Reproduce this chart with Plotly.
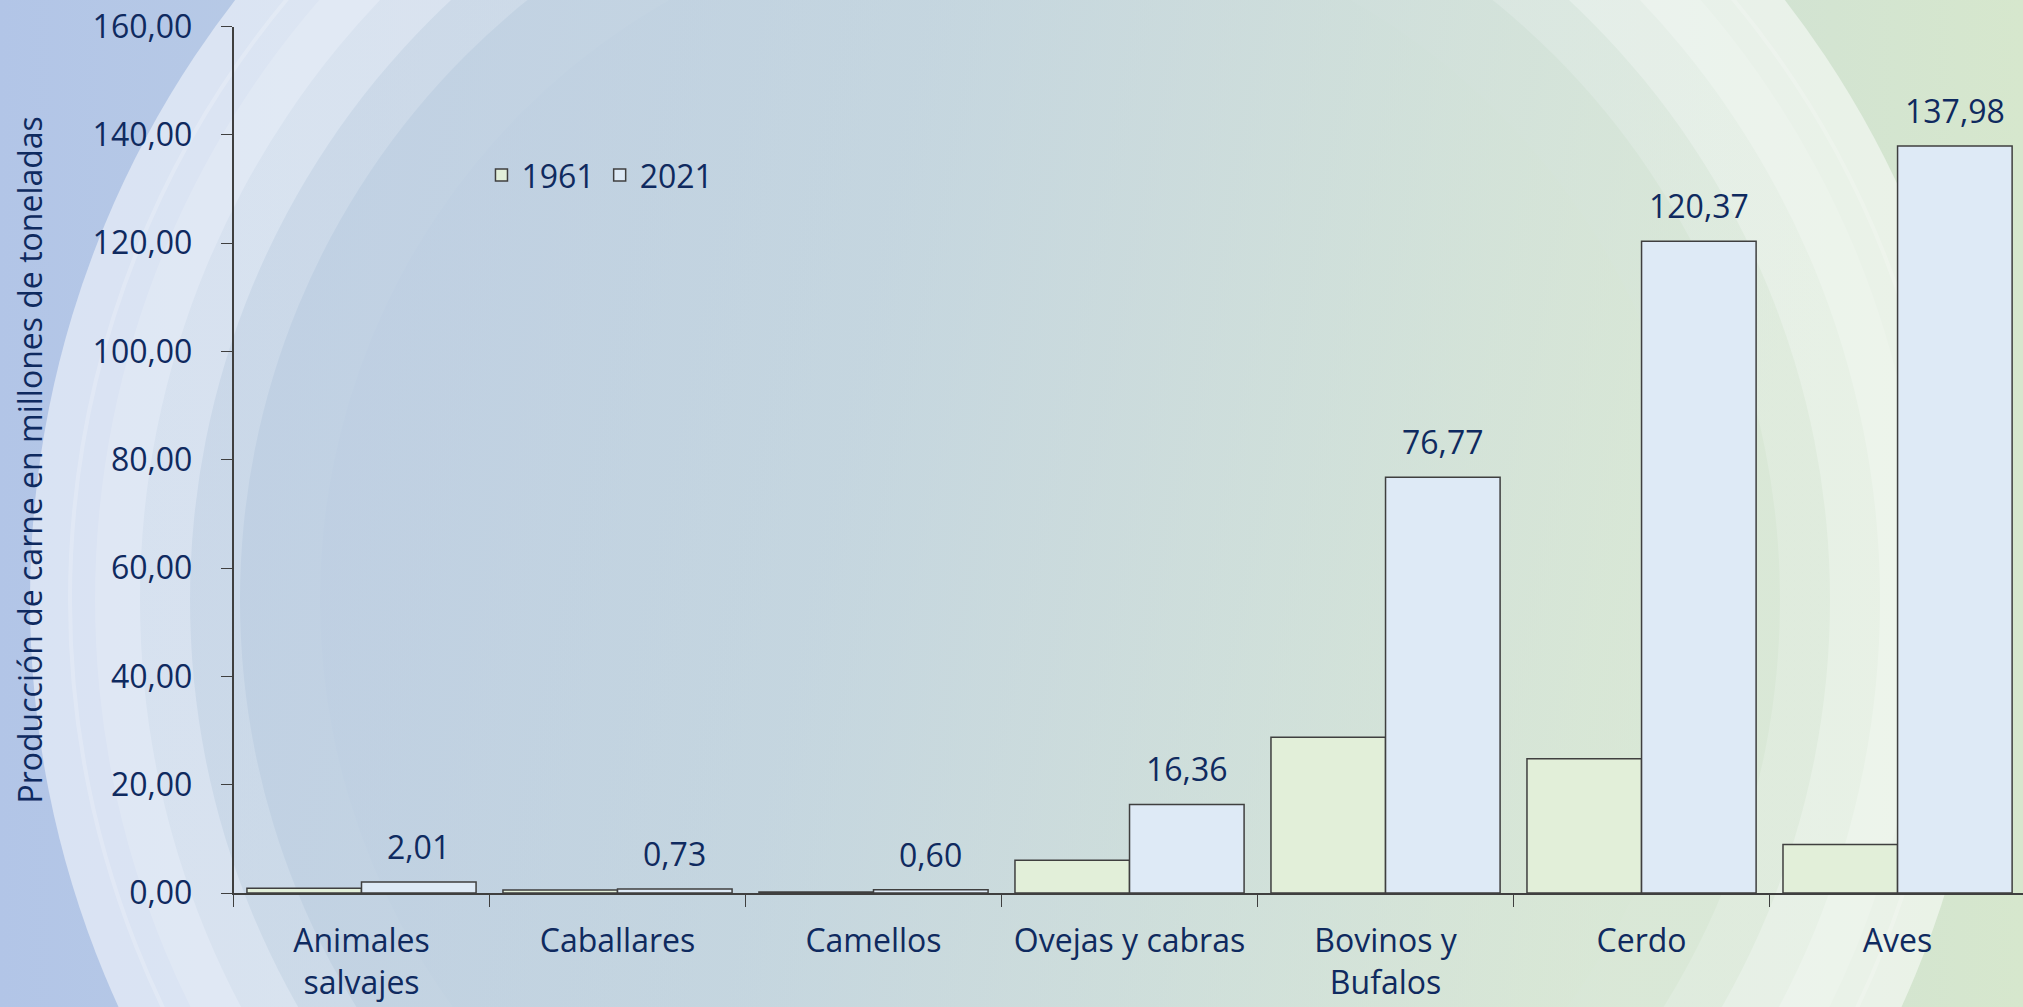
import base64
import plotly.graph_objects as go

categorias = ["Animales<br>salvajes", "Caballares", "Camellos", "Ovejas y cabras",
              "Bovinos y<br>Bufalos", "Cerdo", "Aves"]
prod_1961 = [0.87, 0.55, 0.17, 6.04, 28.75, 24.80, 8.94]
prod_2021 = [2.01, 0.73, 0.60, 16.36, 76.77, 120.37, 137.98]
y_ticks = [0, 20, 40, 60, 80, 100, 120, 140, 160]

W, H = 2023, 1007
navy = "#0f2a5f"
font_family = "Open Sans, Noto Sans, sans-serif"
bargap = 0.105

# fondo degradado con anillos (imitando la plantilla de la diapositiva)
svg = f"""<svg xmlns='http://www.w3.org/2000/svg' width='{W}' height='{H}' viewBox='0 0 {W} {H}'>
<defs>
<linearGradient id='base' x1='0' y1='0' x2='1' y2='0'>
<stop offset='0' stop-color='#b2c5e7'/><stop offset='0.5' stop-color='#c6d7e2'/><stop offset='1' stop-color='#d6e7cd'/>
</linearGradient>
<linearGradient id='inner' x1='0' y1='0' x2='1' y2='0.2'>
<stop offset='0' stop-color='#bccde3'/><stop offset='0.45' stop-color='#c4d5df'/><stop offset='1' stop-color='#d8e7d5'/>
</linearGradient>
</defs>
<rect width='{W}' height='{H}' fill='url(#base)'/>
<circle cx='1010' cy='600' r='980' fill='white' fill-opacity='0.5'/>
<circle cx='1010' cy='600' r='940' fill='none' stroke='white' stroke-opacity='0.2' stroke-width='4'/>
<circle cx='1010' cy='600' r='915' fill='white' fill-opacity='0.15'/>
<circle cx='1010' cy='600' r='870' fill='url(#inner)' fill-opacity='0.25'/>
<circle cx='1010' cy='600' r='820' fill='url(#inner)' fill-opacity='0.5'/>
<circle cx='1010' cy='600' r='770' fill='url(#inner)' fill-opacity='0.8'/>
<circle cx='1010' cy='600' r='690' fill='url(#inner)' fill-opacity='0.6'/>
</svg>"""
bg_src = "data:image/svg+xml;base64," + base64.b64encode(svg.encode()).decode()

fig = go.Figure()
fig.add_trace(go.Bar(x=categorias, y=prod_1961, name="1961",
                     marker=dict(color="#e2efd9", line=dict(color="#3f3f3f", width=1.5))))
fig.add_trace(go.Bar(x=categorias, y=prod_2021, name="2021",
                     marker=dict(color="#deeaf6", line=dict(color="#3f3f3f", width=1.5))))

# etiquetas de valor sobre las barras de 2021
offset = (1 - bargap) / 4
for i, v in enumerate(prod_2021):
    fig.add_annotation(x=i + offset, y=v, xref="x", yref="y",
                       text=f"{v:.2f}".replace(".", ","), showarrow=False,
                       yanchor="bottom", yshift=12,
                       font=dict(size=32, color=navy, family=font_family))

fig.update_layout(
    width=W, height=H,
    margin=dict(l=0, r=0, t=0, b=0),
    paper_bgcolor="rgba(0,0,0,0)",
    plot_bgcolor="rgba(0,0,0,0)",
    images=[dict(source=bg_src, xref="paper", yref="paper", x=0, y=1,
                 sizex=1, sizey=1, sizing="stretch", layer="below")],
    barmode="group", bargap=bargap, bargroupgap=0,
    separators=",.",
    font=dict(family=font_family, size=32, color=navy),
    showlegend=True,
    legend=dict(orientation="h", x=0.238, y=0.826, xanchor="left", yanchor="middle",
                bgcolor="rgba(0,0,0,0)", font=dict(size=32, color=navy),
                itemwidth=30, traceorder="normal"),
    xaxis=dict(domain=[233.5 / W, 1], range=[-0.5, 6.49], automargin=False,
               showline=True, linecolor="#3f3f3f", linewidth=1.5,
               ticks="outside", tickson="boundaries", ticklen=12, tickcolor="#3f3f3f",
               ticklabelstandoff=19,
               tickfont=dict(size=32, color=navy), showgrid=False, zeroline=False),
    yaxis=dict(domain=[(H - 893) / H, (H - 26.7) / H], range=[0, 160], automargin=False,
               tickvals=y_ticks, tickformat=".2f",
               showline=True, linecolor="#3f3f3f", linewidth=1.5,
               ticks="outside", ticklen=11, tickcolor="#3f3f3f", ticklabelstandoff=22,
               tickfont=dict(size=32, color=navy), showgrid=False, zeroline=False,
               title=dict(text="Producción de carne en millones de toneladas",
                          font=dict(size=32, color=navy), standoff=40)),
)

# sin margen del <body>, para que la figura ocupe toda la ventana
fig.write_html("out.html", config={"displayModeBar": False},
               post_script="document.body.style.margin='0';")
